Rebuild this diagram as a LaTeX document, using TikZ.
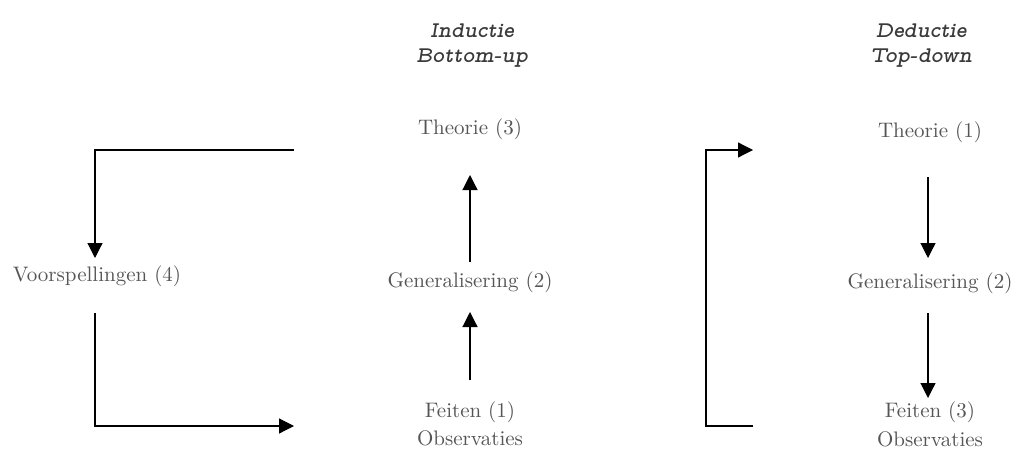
\documentclass[tikz,border=0pt]{standalone}
\usetikzlibrary{arrows.meta}
\definecolor{txtgray}{HTML}{555555}
\definecolor{ttlgray}{HTML}{3A3A3A}
\begin{document}
\begin{tikzpicture}[x=0.5pt,y=-0.5pt,
  txt/.style={anchor=base,inner sep=0pt,text=txtgray,font=\fontsize{10.5}{12}\selectfont},
  ttl/.style={anchor=base,inner sep=0pt,text=ttlgray,font=\fontsize{11.2}{12}\selectfont\fontfamily{lmvtt}\bfseries\itshape\selectfont},
  arr/.style={line width=0.6pt,-{Triangle[width=7.5pt,length=7.5pt]}}]
\useasboundingbox (0,0) rectangle (1015,449);
% titles
\node[ttl] (ti1) at (472,38) {Inductie};
\node[ttl] (ti2) at (472,62) {Bottom-up};
\node[ttl] (td1) at (921,38) {Deductie};
\node[ttl] (td2) at (921,62) {Top-down};
% left column
\node[txt] (th3) at (470,134) {Theorie (3)};
\node[txt] (ge2) at (470,287) {Generalisering (2)};
\node[txt] (fe1) at (470,417) {Feiten (1)};
\node[txt] (ob1) at (470,445) {Observaties};
\node[txt] (vo4) at (97,281) {Voorspellingen (4)};
% right column
\node[txt] (th1) at (930,137) {Theorie (1)};
\node[txt] (ge2r) at (930,288) {Generalisering (2)};
\node[txt] (fe3) at (930,417) {Feiten (3)};
\node[txt] (ob3) at (930,446) {Observaties};
% helper coordinates
\coordinate (lt) at (294,150);
\coordinate (lb) at (294,426);
\coordinate (lx) at (95,0);
\coordinate (rb) at (753,426);
\coordinate (rt) at (753,150);
\coordinate (rl) at (706,0);
\coordinate (rx) at (928,0);
% left arrows
\draw[arr] (ge2 |- 0,262) -- (th3 |- 0,175);
\draw[arr] (fe1 |- 0,380) -- (ge2 |- 0,312);
\draw[arr] (lt) -- (lx |- lt) -- (lx |- 0,258);
\draw[arr] (lx |- 0,313) -- (lx |- lb) -- (lb);
% right arrows
\draw[arr] (rx |- 0,177) -- (rx |- 0,258);
\draw[arr] (rx |- 0,313) -- (rx |- 0,398);
\draw[arr] (rb) -- (rl |- rb) -- (rl |- rt) -- (rt);
\end{tikzpicture}
\end{document}
